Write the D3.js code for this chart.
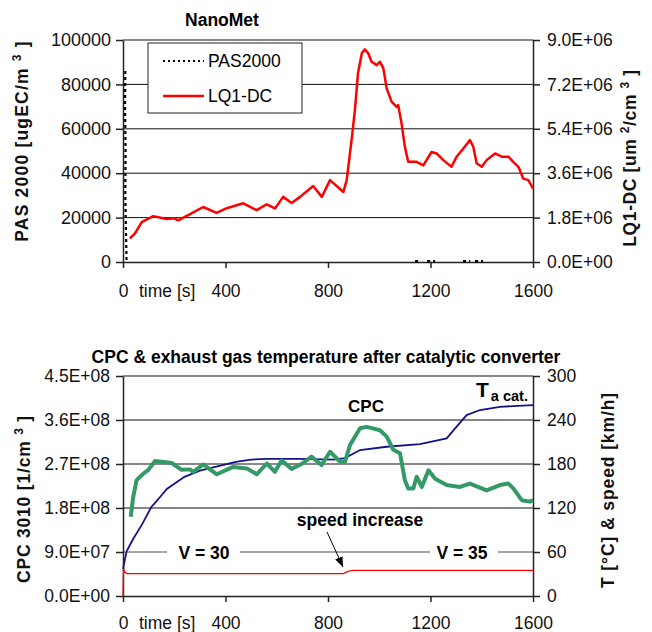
<!DOCTYPE html>
<html>
<head>
<meta charset="utf-8">
<script src="https://cdn.jsdelivr.net/npm/d3@7"></script>
<style>
  body { margin: 0; background: #fff; }
  svg text { font-family: "Liberation Sans", Arial, sans-serif; }
</style>
</head>
<body>
<div id="chart"></div>
<script>
// ---- data ----
// time axis
var timeTicks = [0, 400, 800, 1200, 1600];

// NanoMet panel
var pasTicks = [0, 20000, 40000, 60000, 80000, 100000];
var lqTicks = [0, 1.8e6, 3.6e6, 5.4e6, 7.2e6, 9.0e6];
var pasTime = [9, 8, 10, 9, 12, 14, null, 1140, 1160, null, 1187, 1218, null, 1327, 1355, null, 1374, 1405];
var pas2000 = [86000, 70000, 50000, 30000, 12000, 0, null, 400, 400, null, 400, 400, null, 400, 400, null, 400, 400];
var lqTime = [27, 47, 73, 118, 170, 200, 215, 262, 313, 365, 405, 469, 522, 561, 593, 625, 658, 691, 742, 776,
    808, 860, 873, 892, 905, 917, 932, 944, 957, 970, 990, 1003, 1016, 1029, 1048, 1068, 1074, 1087, 1100, 1113,
    1146, 1172, 1204, 1224, 1250, 1282, 1302, 1328, 1354, 1367, 1380, 1400, 1419, 1452, 1478, 1504, 1523, 1543, 1562, 1582,
    1600];
var lq1dc = [0.96e6, 1.16e6, 1.62e6, 1.86e6, 1.74e6, 1.77e6, 1.69e6, 1.94e6, 2.23e6, 1.99e6, 2.18e6, 2.38e6, 2.10e6, 2.34e6, 2.17e6, 2.64e6, 2.39e6, 2.64e6, 3.08e6, 2.64e6,
    3.32e6, 2.84e6, 3.32e6, 4.94e6, 6.16e6, 7.65e6, 8.46e6, 8.62e6, 8.46e6, 8.12e6, 7.98e6, 8.12e6, 7.85e6, 7.04e6, 6.50e6, 6.29e6, 6.36e6, 5.62e6, 4.67e6, 4.06e6,
    4.06e6, 3.92e6, 4.46e6, 4.40e6, 4.13e6, 3.86e6, 4.27e6, 4.60e6, 4.94e6, 4.67e6, 4.00e6, 3.86e6, 4.13e6, 4.40e6, 4.27e6, 4.27e6, 4.06e6, 3.86e6, 3.38e6, 3.32e6,
    2.98e6];

// CPC / temperature panel
var cpcTicks = [0, 0.9e8, 1.8e8, 2.7e8, 3.6e8, 4.5e8];
var tempTicks = [0, 60, 120, 180, 240, 300];
var cpcTime = [30, 40, 53, 79, 99, 125, 190, 229, 261, 274, 313, 366, 430, 483, 522, 561, 593, 619, 658, 697,
    736, 775, 808, 847, 866, 886, 925, 951, 1003, 1029, 1055, 1081, 1100, 1113, 1133, 1146, 1166, 1192, 1218, 1263,
    1315, 1354, 1419, 1471, 1504, 1523, 1556, 1588, 1600];
var cpc3010 = [1.62e8, 2.03e8, 2.37e8, 2.50e8, 2.58e8, 2.76e8, 2.72e8, 2.58e8, 2.59e8, 2.54e8, 2.69e8, 2.49e8, 2.64e8, 2.61e8, 2.49e8, 2.71e8, 2.54e8, 2.77e8, 2.60e8, 2.70e8,
    2.85e8, 2.68e8, 2.95e8, 2.75e8, 2.74e8, 3.09e8, 3.43e8, 3.46e8, 3.39e8, 3.26e8, 2.99e8, 2.92e8, 2.37e8, 2.20e8, 2.20e8, 2.44e8, 2.23e8, 2.57e8, 2.40e8, 2.27e8,
    2.23e8, 2.30e8, 2.16e8, 2.27e8, 2.30e8, 2.20e8, 1.96e8, 1.93e8, 1.96e8];
var tempTime = [0, 14, 40, 75, 110, 140, 171, 240, 300, 360, 440, 500, 561, 691, 821, 866, 925, 1029, 1159, 1263, 1302, 1341, 1393, 1471, 1600];
var tempCat = [37, 61, 78, 98, 121, 133, 146, 162.5, 171, 176, 183, 186, 187, 187, 186, 188, 199, 203.5, 207, 215, 231, 246.7, 253.6, 258, 260.4];
var speedTime = [0, 2, 6, 15, 860, 880, 900, 1600];
var speed = [0, 38, 33, 30.5, 30.5, 34, 35, 35];

// ---- drawing ----
var width = 652, height = 632;
var left = 123, right = 533;

var svg = d3.select("#chart").append("svg")
    .attr("width", width)
    .attr("height", height);

var x = d3.scaleLinear().domain([0, 1600]).range([left, right]);

function sci(v) {
    if (v === 0) return "0.0E+00";
    var e = Math.floor(Math.log10(v) + 1e-9);
    var m = v / Math.pow(10, e);
    return m.toFixed(1) + "E+" + (e < 10 ? "0" : "") + e;
}

function zip(ts, vs) {
    return ts.map(function(t, i) { return {t: t, v: vs[i]}; });
}

function styleAxis(g, fs) {
    g.select(".domain").attr("stroke", "#222").attr("stroke-width", 1.5);
    g.selectAll(".tick line").attr("stroke", "#222").attr("stroke-width", 1.5);
    g.selectAll(".tick text").attr("fill", "#111").style("font-size", (fs || 17.5) + "px")
        .style("font-family", "'Liberation Sans', Arial, sans-serif");
}

function gridlines(y, vals, color) {
    svg.append("g").selectAll("line")
        .data(vals)
        .enter().append("line")
        .attr("x1", left).attr("x2", right)
        .attr("y1", function(d) { return y(d); })
        .attr("y2", function(d) { return y(d); })
        .attr("stroke", color || "#111")
        .attr("stroke-width", 1);
}

function axisTitle(cx, cy, parts, ls) {
    var t = svg.append("text")
        .attr("transform", "translate(" + cx + "," + cy + ") rotate(-90)")
        .attr("text-anchor", "middle")
        .style("font-size", "17.5px")
        .style("font-weight", "bold")
        .style("letter-spacing", ls + "px")
        .attr("fill", "#111");
    parts.forEach(function(p) {
        var s = t.append("tspan").text(p.text);
        if (p.sup) s.attr("dy", -7).style("font-size", "12px");
        if (p.down) s.attr("dy", 7);
    });
}

function timeAxis(y0, labelY) {
    var g = svg.append("g")
        .attr("transform", "translate(0," + y0 + ")")
        .call(d3.axisBottom(x).tickValues(timeTicks).tickSize(6).tickPadding(labelY).tickSizeOuter(0)
            .tickFormat(d3.format("d")));
    styleAxis(g);
    svg.append("text")
        .attr("x", 139).attr("y", y0 + labelY + 6 + 12.4)
        .style("font-size", "17.5px")
        .attr("fill", "#111")
        .text("time [s]");
}

// ===== top panel: NanoMet =====
var yPas = d3.scaleLinear().domain([0, 100000]).range([262, 40]);
var yLq = d3.scaleLinear().domain([0, 9e6]).range([262, 40]);

gridlines(yPas, pasTicks.slice(1));

svg.append("text")
    .attr("x", 222).attr("y", 26)
    .attr("text-anchor", "middle")
    .style("font-size", "17.5px").style("font-weight", "bold")
    .text("NanoMet");

var gl = svg.append("g").attr("transform", "translate(" + left + ",0)")
    .call(d3.axisLeft(yPas).tickValues(pasTicks).tickSize(7).tickPadding(5).tickSizeOuter(0)
        .tickFormat(d3.format("d")));
styleAxis(gl, 18);
var gr = svg.append("g").attr("transform", "translate(" + right + ",0)")
    .call(d3.axisRight(yLq).tickValues(lqTicks).tickSize(7).tickPadding(7).tickSizeOuter(0).tickFormat(sci));
styleAxis(gr);
timeAxis(262, 17);

axisTitle(28, 141, [{text: "PAS 2000 [ugEC/m  "}, {text: "3", sup: true}, {text: " ]", down: true}], 1.2);
axisTitle(636, 158, [{text: "LQ1-DC [um  "}, {text: "2", sup: true}, {text: "/cm  ", down: true}, {text: "3", sup: true}, {text: " ]", down: true}], 0.6);

var lineRed = d3.line()
    .x(function(d) { return x(d.t); })
    .y(function(d) { return yLq(d.v); });
svg.append("path")
    .datum(zip(lqTime, lq1dc))
    .attr("fill", "none")
    .attr("stroke", "#ff0000")
    .attr("stroke-width", 2.5)
    .attr("stroke-linejoin", "round")
    .attr("d", lineRed);

var linePas = d3.line()
    .defined(function(d) { return d.v !== null; })
    .x(function(d) { return x(d.t); })
    .y(function(d) { return yPas(d.v); });
svg.append("path")
    .datum(zip(pasTime, pas2000))
    .attr("fill", "none")
    .attr("stroke", "#000")
    .attr("stroke-width", 2.2)
    .attr("stroke-dasharray", "3,3")
    .attr("d", linePas);

// legend
var leg = svg.append("g");
leg.append("rect")
    .attr("x", 148).attr("y", 43).attr("width", 154).attr("height", 70)
    .attr("fill", "#fff").attr("stroke", "#222").attr("stroke-width", 1);
leg.append("line")
    .attr("x1", 163).attr("x2", 204).attr("y1", 61).attr("y2", 61)
    .attr("stroke", "#000").attr("stroke-width", 2).attr("stroke-dasharray", "2,3");
leg.append("line")
    .attr("x1", 163).attr("x2", 204).attr("y1", 96).attr("y2", 96)
    .attr("stroke", "#ff0000").attr("stroke-width", 2.5);
leg.append("text").attr("x", 208).attr("y", 67).style("font-size", "17.5px").text("PAS2000");
leg.append("text").attr("x", 208).attr("y", 102).style("font-size", "17.5px").text("LQ1-DC");

// ===== bottom panel: CPC & temperature =====
var yCpc = d3.scaleLinear().domain([0, 4.5e8]).range([596, 376]);
var yT = d3.scaleLinear().domain([0, 300]).range([596, 376]);

gridlines(yCpc, [1.8e8, 2.7e8, 3.6e8, 4.5e8]);
svg.append("line")
    .attr("x1", left).attr("x2", right)
    .attr("y1", yCpc(0.9e8)).attr("y2", yCpc(0.9e8))
    .attr("stroke", "#888").attr("stroke-width", 1.6);

svg.append("text")
    .attr("x", 326).attr("y", 363)
    .attr("text-anchor", "middle")
    .style("font-size", "17.5px").style("font-weight", "bold")
    .text("CPC & exhaust gas temperature after catalytic converter");

var gl2 = svg.append("g").attr("transform", "translate(" + left + ",0)")
    .call(d3.axisLeft(yCpc).tickValues(cpcTicks).tickSize(7).tickPadding(6).tickSizeOuter(0).tickFormat(sci));
styleAxis(gl2);
var gr2 = svg.append("g").attr("transform", "translate(" + right + ",0)")
    .call(d3.axisRight(yT).tickValues(tempTicks).tickSize(7).tickPadding(7).tickSizeOuter(0));
styleAxis(gr2);
timeAxis(596, 15);

axisTitle(30, 499, [{text: "CPC 3010 [1/cm  "}, {text: "3", sup: true}, {text: " ]", down: true}], 0.8);
axisTitle(614, 490, [{text: "T [°C] & speed [km/h]"}], 0.9);

// V = 30 / V = 35 labels over the grey line
[{label: "V = 30", x0: 167, x1: 240, cx: 204}, {label: "V = 35", x0: 430, x1: 498, cx: 462}].forEach(function(d) {
    svg.append("rect")
        .attr("x", d.x0).attr("y", yCpc(0.9e8) - 10).attr("width", d.x1 - d.x0).attr("height", 20)
        .attr("fill", "#fff");
    svg.append("text")
        .attr("x", d.cx).attr("y", yCpc(0.9e8) + 6.5)
        .attr("text-anchor", "middle")
        .style("font-size", "17.5px").style("font-weight", "bold")
        .text(d.label);
});

var lineT = d3.line()
    .x(function(d) { return x(d.t); })
    .y(function(d) { return yT(d.v); });
svg.append("path")
    .datum(zip(speedTime, speed))
    .attr("fill", "none").attr("stroke", "#ff0000").attr("stroke-width", 1.3)
    .attr("d", lineT);
svg.append("path")
    .datum(zip(tempTime, tempCat))
    .attr("fill", "none").attr("stroke", "#14148a").attr("stroke-width", 1.8)
    .attr("d", lineT);

var lineCpc = d3.line()
    .x(function(d) { return x(d.t); })
    .y(function(d) { return yCpc(d.v); });
svg.append("path")
    .datum(zip(cpcTime, cpc3010))
    .attr("fill", "none").attr("stroke", "#339966").attr("stroke-width", 4)
    .attr("stroke-linejoin", "round")
    .attr("d", lineCpc);

// annotations
svg.append("text")
    .attr("x", 366).attr("y", 412)
    .attr("text-anchor", "middle")
    .style("font-size", "17px").style("font-weight", "bold")
    .text("CPC");

var ta = svg.append("text")
    .attr("x", 476).attr("y", 397)
    .style("font-weight", "bold");
ta.append("tspan").style("font-size", "21px").text("T");
ta.append("tspan").attr("dx", 2).attr("dy", 4).style("font-size", "14.5px").text("a cat.");

svg.append("text")
    .attr("x", 360).attr("y", 526)
    .attr("text-anchor", "middle")
    .style("font-size", "17.5px").style("font-weight", "bold")
    .text("speed increase");

svg.append("defs").append("marker")
    .attr("id", "arrow")
    .attr("viewBox", "0 0 10 10")
    .attr("refX", 10).attr("refY", 5)
    .attr("markerWidth", 10).attr("markerHeight", 10)
    .attr("markerUnits", "userSpaceOnUse")
    .attr("orient", "auto")
    .append("path").attr("d", "M0,1 L10,5 L0,9 Z").attr("fill", "#000");
svg.append("line")
    .attr("x1", 327).attr("y1", 532).attr("x2", 343).attr("y2", 567)
    .attr("stroke", "#000").attr("stroke-width", 1)
    .attr("marker-end", "url(#arrow)");
</script>
</body>
</html>
